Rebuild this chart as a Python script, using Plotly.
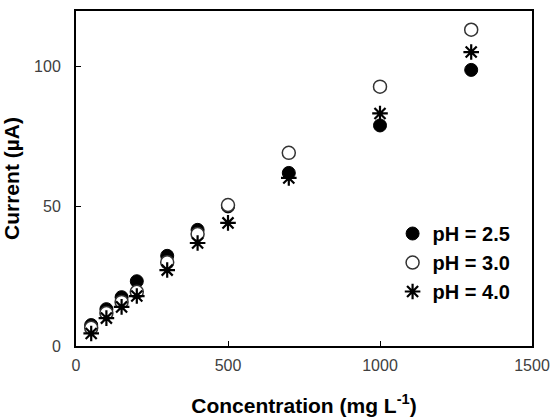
import plotly.graph_objects as go

concentration = [50, 100, 150, 200, 300, 400, 500, 700, 1000, 1300]
ph_2_5 = [7.5, 13.2, 17.5, 23.2, 32.3, 41.6, 50.0, 62.0, 79.0, 98.9]
ph_3_0 = [6.5, 11.8, 15.8, 19.4, 30.0, 40.1, 50.5, 69.2, 92.9, 113.3]
ph_4_0 = [4.5, 10.0, 14.0, 17.9, 27.2, 36.9, 44.1, 60.2, 83.3, 105.3]
x_ticks = [0, 500, 1000, 1500]
y_ticks = [0, 50, 100]

FONT = "Liberation Sans, Arial, sans-serif"

fig = go.Figure()
fig.add_trace(go.Scatter(
    x=concentration, y=ph_2_5, mode="markers", name="pH = 2.5",
    marker=dict(symbol="circle", size=13, color="black",
                line=dict(color="black", width=1))))
fig.add_trace(go.Scatter(
    x=concentration, y=ph_3_0, mode="markers", name="pH = 3.0",
    marker=dict(symbol="circle", size=13, color="white",
                line=dict(color="#333333", width=1.5))))
fig.add_trace(go.Scatter(
    x=concentration, y=ph_4_0, mode="markers", name="pH = 4.0",
    marker=dict(symbol="asterisk-open", size=13, color="black",
                line=dict(color="black", width=2.2))))

axis_common = dict(
    showline=True, linecolor="black", linewidth=2, mirror=True,
    ticks="inside", ticklen=5, tickwidth=1, tickcolor="black",
    showgrid=False, zeroline=False, automargin=False,
    tickfont=dict(family=FONT, size=16, color="#404040"),
)

fig.update_xaxes(range=[0, 1500], tickvals=x_ticks,
                 title=dict(text="<b>Concentration (mg L<sup>-1</sup>)</b>",
                            font=dict(family=FONT, size=21, color="black"),
                            standoff=27),
                 ticklabelstandoff=4, **axis_common)
fig.update_yaxes(range=[0, 120], tickvals=y_ticks,
                 title=dict(text="<b>Current (µA)</b>",
                            font=dict(family=FONT, size=21, color="black"),
                            standoff=19),
                 ticklabelstandoff=10, **axis_common)

fig.update_layout(
    width=552, height=417,
    margin=dict(l=76, r=20, t=11, b=71),
    plot_bgcolor="white", paper_bgcolor="white",
    font=dict(family=FONT, color="black"),
    legend=dict(x=0.964, y=0.394, xanchor="right", yanchor="top",
                bgcolor="rgba(0,0,0,0)", itemwidth=30,
                font=dict(family=FONT, size=20, color="black", weight="bold"),
                tracegroupgap=0, traceorder="normal"),
)

fig.write_html("out.html",
               config={"displayModeBar": False},
               post_script="document.body.style.margin='0';document.body.style.overflow='hidden';")
